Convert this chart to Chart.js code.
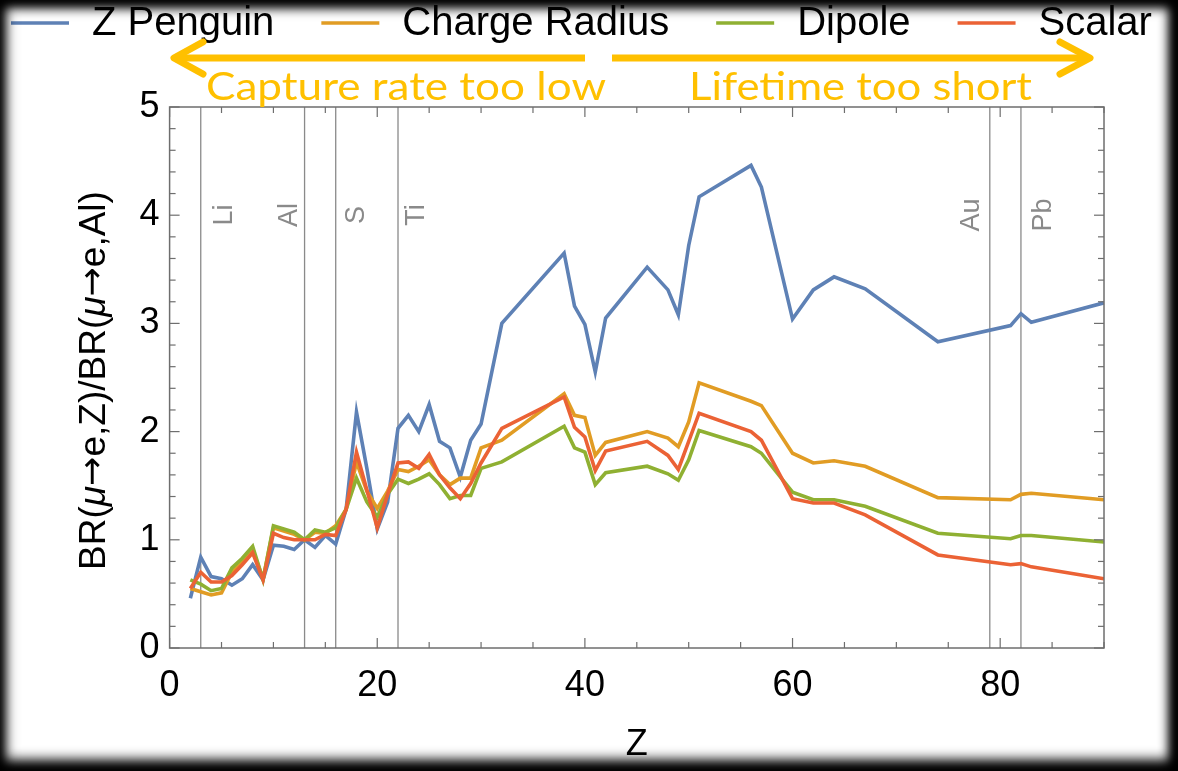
<!DOCTYPE html>
<html>
<head>
<meta charset="utf-8">
<script src="https://cdn.jsdelivr.net/npm/chart.js@4.4.1/dist/chart.umd.min.js"></script>
<style>
  html, body { margin: 0; padding: 0; background: #000; }
  #wrap { position: relative; width: 1178px; height: 771px; background: #fff; overflow: hidden; }
  #wrap canvas { position: absolute; left: 0; top: 0; }
  #edge {
    position: absolute; left: 0; top: 0; width: 1178px; height: 771px; pointer-events: none;
    box-shadow: inset 0 0 16px 3px #000, inset 0 6px 12px 0 #000, inset 0 -10px 14px 0 #000, inset -8px 0 12px 0 #000;
  }
</style>
</head>
<body>
<div id="wrap">
  <canvas id="c" width="1178" height="771"></canvas>
  <div id="edge"></div>
</div>
<script>
// Nuclear charge Z of each target nucleus
const Z = [2, 3, 4, 5, 6, 7, 8, 9, 10, 11, 12, 13, 14, 15, 16, 17, 18, 19, 20, 21,
           22, 23, 24, 25, 26, 27, 28, 29, 30, 32, 38, 39, 40, 41, 42, 46, 48, 49, 50, 51,
           56, 57, 60, 62, 64, 67, 74, 81, 82, 83, 90];

// Conversion rate relative to aluminium, one list per operator
const zPenguin = [0.46, 0.84, 0.66, 0.64, 0.58, 0.64, 0.77, 0.63, 0.95, 0.94, 0.91, 1.00, 0.93, 1.04, 0.96, 1.28, 2.18, 1.66, 1.10, 1.35,
                  2.03, 2.15, 2.00, 2.25, 1.91, 1.85, 1.58, 1.92, 2.07, 3.00, 3.65, 3.16, 2.99, 2.55, 3.05, 3.52, 3.31, 3.08, 3.72, 4.17,
                  4.46, 4.26, 3.04, 3.31, 3.43, 3.32, 2.83, 2.98, 3.09, 3.01, 3.19];
const chargeRadius = [0.55, 0.52, 0.49, 0.51, 0.70, 0.80, 0.91, 0.64, 1.11, 1.08, 1.05, 1.00, 1.07, 1.06, 1.13, 1.28, 1.72, 1.45, 1.29, 1.45,
                      1.65, 1.63, 1.68, 1.74, 1.60, 1.51, 1.57, 1.57, 1.85, 1.92, 2.35, 2.15, 2.13, 1.78, 1.90, 2.00, 1.94, 1.86, 2.09, 2.45,
                      2.28, 2.24, 1.80, 1.71, 1.73, 1.68, 1.39, 1.37, 1.42, 1.43, 1.37];
const dipole = [0.63, 0.59, 0.53, 0.55, 0.74, 0.83, 0.94, 0.63, 1.13, 1.10, 1.07, 1.00, 1.09, 1.07, 1.11, 1.28, 1.57, 1.35, 1.21, 1.42,
                1.56, 1.52, 1.56, 1.61, 1.51, 1.38, 1.41, 1.41, 1.66, 1.72, 2.05, 1.85, 1.81, 1.51, 1.62, 1.68, 1.61, 1.55, 1.74, 2.01,
                1.86, 1.80, 1.44, 1.37, 1.37, 1.31, 1.06, 1.01, 1.04, 1.04, 0.98];
const scalar = [0.55, 0.70, 0.61, 0.61, 0.67, 0.77, 0.88, 0.63, 1.06, 1.02, 1.00, 1.00, 1.00, 1.05, 1.04, 1.28, 1.81, 1.46, 1.11, 1.42,
                1.71, 1.72, 1.66, 1.79, 1.60, 1.48, 1.38, 1.52, 1.71, 2.03, 2.32, 2.04, 1.95, 1.64, 1.82, 1.91, 1.78, 1.65, 1.91, 2.17,
                2.00, 1.92, 1.38, 1.34, 1.34, 1.23, 0.86, 0.77, 0.78, 0.75, 0.64];

const seriesNames = ['Z Penguin', 'Charge Radius', 'Dipole', 'Scalar'];

// Reference nuclei marked with vertical lines
const markerZ = [3, 13, 16, 22, 79, 82];
const markerNames = ['Li', 'Al', 'S', 'Ti', 'Au', 'Pb'];

// Tick labels
const xTickValues = [0, 20, 40, 60, 80];
const yTickValues = [0, 1, 2, 3, 4, 5];

// Axis titles and annotation texts
const xTitle = 'Z';
const yTitleParts = ['BR(', 'μ', '→', 'e,Z)/BR(', 'μ', '→', 'e,Al)'];
const leftNote = 'Capture rate too low';
const rightNote = 'Lifetime too short';

const palette = ['#5E81B5', '#E19C24', '#8FB032', '#EB6235'];
const seriesValues = [zPenguin, chargeRadius, dipole, scalar];
const SANS = '"Liberation Sans", Arial, Helvetica, sans-serif';

const datasets = seriesValues.map((vals, i) => ({
  label: seriesNames[i],
  data: Z.map((z, k) => ({ x: z, y: vals[k] })),
  borderColor: palette[i],
  backgroundColor: palette[i],
  borderWidth: 3.6,
  pointRadius: 0,
  tension: 0,
  order: seriesValues.length - i
}));

function seg(ctx, x1, y1, x2, y2) {
  ctx.beginPath(); ctx.moveTo(x1, y1); ctx.lineTo(x2, y2); ctx.stroke();
}

// Thin vertical lines with rotated element names
const markerPlugin = {
  id: 'markers',
  beforeDatasetsDraw(chart) {
    const { ctx, chartArea: a, scales: { x } } = chart;
    const shift = { Li: 24, Al: -15, S: 21, Ti: 19, Au: -18, Pb: 23 };
    ctx.save();
    ctx.strokeStyle = '#8a8a8a';
    ctx.lineWidth = 1.3;
    markerZ.forEach((z, i) => {
      const px = x.getPixelForValue(z);
      seg(ctx, px, a.top, px, a.bottom);
      ctx.save();
      ctx.translate(px + shift[markerNames[i]], 215);
      ctx.rotate(-Math.PI / 2);
      ctx.fillStyle = '#8a8a8a';
      ctx.font = '27px ' + SANS;
      ctx.textAlign = 'center';
      ctx.textBaseline = 'middle';
      ctx.fillText(markerNames[i], 0, 0);
      ctx.restore();
    });
    ctx.restore();
  }
};

// Frame around the plot with inward ticks on all four sides, plus the y title
const framePlugin = {
  id: 'frame',
  afterDatasetsDraw(chart) {
    const { ctx, chartArea: a, scales: { x, y } } = chart;
    ctx.save();
    ctx.strokeStyle = '#6e6e6e';
    ctx.lineWidth = 1.5;
    ctx.strokeRect(a.left, a.top, a.right - a.left, a.bottom - a.top);
    ctx.lineWidth = 1.2;
    for (let v = 0; v <= 90; v += 5) {
      const px = x.getPixelForValue(v);
      const len = v % 20 === 0 ? 10 : 6;
      seg(ctx, px, a.bottom, px, a.bottom - len);
      seg(ctx, px, a.top, px, a.top + len);
    }
    for (let i = 0; i <= 25; i++) {
      const py = y.getPixelForValue(i * 0.2);
      const len = i % 5 === 0 ? 10 : 6;
      seg(ctx, a.left, py, a.left + len, py);
      seg(ctx, a.right, py, a.right - len, py);
    }
    ctx.restore();

    // y title with italic mu and a full-width arrow
    const fontFor = p => p === 'μ' ? 'italic 37px ' + SANS
                      : p === '→' ? '35px "DejaVu Sans", sans-serif'
                      : '37px ' + SANS;
    ctx.save();
    ctx.fillStyle = '#000';
    ctx.textBaseline = 'middle';
    ctx.textAlign = 'left';
    let total = 0;
    const widths = yTitleParts.map(p => { ctx.font = fontFor(p); const w = ctx.measureText(p).width; total += w; return w; });
    ctx.translate(94, (a.top + a.bottom) / 2 + 3);
    ctx.rotate(-Math.PI / 2);
    let cx = -total / 2;
    yTitleParts.forEach((p, i) => {
      ctx.font = fontFor(p);
      ctx.fillText(p, cx, p === '→' ? 0 : 1);
      cx += widths[i];
    });
    ctx.restore();
  }
};

// Series key across the top
const keyPlugin = {
  id: 'key',
  afterDraw(chart) {
    const { ctx } = chart;
    ctx.save();
    ctx.font = '40px ' + SANS;
    ctx.textBaseline = 'middle';
    ctx.textAlign = 'left';
    let cx = 11;
    const cy = 23;
    chart.data.datasets.forEach(ds => {
      ctx.strokeStyle = ds.borderColor;
      ctx.lineWidth = 3.5;
      seg(ctx, cx, cy, cx + 58, cy);
      cx += 58 + 23;
      ctx.fillStyle = '#000';
      ctx.fillText(ds.label, cx, cy + 1);
      cx += ctx.measureText(ds.label).width + 47;
    });
    ctx.restore();
  }
};

// Orange arrows with their captions
const notePlugin = {
  id: 'notes',
  afterDraw(chart) {
    const { ctx } = chart;
    const col = '#FFC000';
    ctx.save();
    ctx.strokeStyle = col;
    ctx.lineWidth = 7;
    ctx.lineJoin = 'round';
    const ay = 58;
    ctx.lineCap = 'butt';
    seg(ctx, 585, ay, 176, ay);
    ctx.lineCap = 'round';
    ctx.beginPath();
    ctx.moveTo(203, ay - 16); ctx.lineTo(174, ay); ctx.lineTo(203, ay + 16);
    ctx.stroke();
    ctx.lineCap = 'butt';
    seg(ctx, 612, ay, 1088, ay);
    ctx.lineCap = 'round';
    ctx.beginPath();
    ctx.moveTo(1060, ay - 16); ctx.lineTo(1090, ay); ctx.lineTo(1060, ay + 16);
    ctx.stroke();

    ctx.fillStyle = col;
    ctx.font = '39px Lato, "Open Sans", sans-serif';
    ctx.textBaseline = 'alphabetic';
    ctx.textAlign = 'left';
    const put = (txt, x0, x1, base) => {
      const w = ctx.measureText(txt).width;
      ctx.save();
      ctx.translate(x0, base);
      ctx.scale((x1 - x0) / w, 1);
      ctx.fillText(txt, 0, 0);
      ctx.restore();
    };
    put(leftNote, 206, 606, 100);
    put(rightNote, 689, 1032, 100);
    ctx.restore();
  }
};

new Chart(document.getElementById('c'), {
  type: 'line',
  data: { datasets },
  plugins: [markerPlugin, framePlugin, keyPlugin, notePlugin],
  options: {
    responsive: false,
    animation: false,
    events: [],
    layout: { padding: { top: 107, right: 74, left: 0, bottom: 0 } },
    plugins: { legend: { display: false }, tooltip: { enabled: false } },
    scales: {
      x: {
        type: 'linear',
        min: 0, max: 90,
        afterBuildTicks: s => { s.ticks = xTickValues.map(v => ({ value: v })); },
        afterFit: s => { s.height = 123; },
        grid: { display: false, drawTicks: false },
        border: { display: false },
        ticks: { color: '#000', font: { family: SANS, size: 36 }, padding: 16, maxRotation: 0 },
        title: { display: true, text: xTitle, color: '#000', font: { family: SANS, size: 36, lineHeight: 1.2 }, padding: { top: 0, bottom: 4 } }
      },
      y: {
        type: 'linear',
        min: 0, max: 5,
        afterBuildTicks: s => { s.ticks = yTickValues.map(v => ({ value: v })); },
        afterFit: s => { s.width = 169.6; },
        grid: { display: false, drawTicks: false },
        border: { display: false },
        ticks: { color: '#000', font: { family: SANS, size: 36 }, padding: 10 }
      }
    }
  }
});
</script>
</body>
</html>
